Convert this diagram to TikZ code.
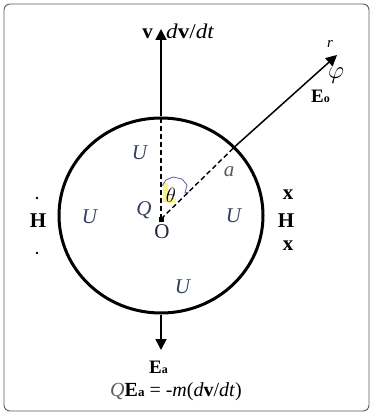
\documentclass[tikz,border=0pt]{standalone}
\usepackage{fontspec}
\setmainfont{Liberation Serif}
\usetikzlibrary{arrows.meta,shapes.geometric}
\definecolor{ucol}{HTML}{34405E}
\definecolor{graytxt}{HTML}{5A5A5A}
\definecolor{hexblue}{HTML}{5C5C9C}
\definecolor{hilite}{HTML}{F2EE3A}
\begin{document}
\begin{tikzpicture}[x=1pt,y=-1pt,
  lbl/.style={inner sep=0pt,font=\fontsize{21}{21}\selectfont},
  ulbl/.style={lbl,text=ucol},
  arr/.style={line width=1.8pt,-{Triangle[length=11pt,width=11pt]}},
  dline/.style={line width=1.4pt,dash pattern=on 5pt off 3pt},
  frame/.style={draw=graytxt,line width=0.9pt,rounded corners=6pt}
]
\useasboundingbox (0,0) rectangle (372,414);
\draw[frame] (4,4) rectangle (369,411);

% sphere
\node[ellipse,draw,line width=3pt,minimum width=204pt,minimum height=195pt,inner sep=0pt] (circ) at (161,215.5) {};
\coordinate (O) at (161,219);
\coordinate (vtip) at (161,29);
\coordinate (rtip) at (337,55);
\coordinate (atip) at (161,350);

% theta decoration
\fill[hilite,opacity=0.6] (163,183) -- (168,183) -- (168,197) -- (176,199) -- (175,203) -- (163,202) -- cycle;
\draw[hexblue,line width=0.8pt] (162,186) -- (166,180) -- (173,177) -- (182,179) -- (187,185) -- (185,193) -- (189,192);

% dashed radii
\draw[dline] (O) -- (circ.north);
\draw[dline] (O) -- (circ.43);
\fill (159,217) rectangle (163.5,221.5);

% arrows
\draw[arr] (circ.north) -- (vtip);
\draw[arr,line width=1.5pt] (circ.43) -- (rtip);
\draw[arr] (circ.south) -- (atip);

% labels
\node[lbl,anchor=base] (v) at (147.5,39) {\textbf{v}};
\node[lbl,anchor=base west,xscale=1.1] (dvdt) at (166,39) {\textit{d}\textbf{v}/\textit{dt}};
\node[lbl,anchor=base,font=\fontsize{15}{15}\selectfont] (r) at (330,48) {\textit{r}};
\node[lbl,font=\fontsize{25}{25}\selectfont] (phi) at (336,76) {$\varphi$};
\node[lbl,anchor=base west,font=\fontsize{19}{19}\selectfont] (Eo) at (311,103) {\textbf{E}\fontsize{12}{12}\selectfont\textbf{o}};

\node[ulbl] (U1) at (140,153) {\textit{U}};
\node[ulbl] (U2) at (90,217) {\textit{U}};
\node[ulbl] (U3) at (234,216) {\textit{U}};
\node[ulbl] (U4) at (183,287) {\textit{U}};
\node[ulbl] (Q) at (144,210) {\textit{Q}};
\node[lbl] (theta) at (171,195) {$\theta$};
\node[lbl,text=graytxt] (a) at (229,172) {\textit{a}};
\node[lbl,text=ucol!60!black] (Olbl) at (162,232) {O};

\node[lbl] (HL) at (38,221) {\textbf{H}};
\fill (37,198) circle (1.3pt);
\fill (37,253) circle (1.3pt);
\node[lbl] (HR) at (286,221) {\textbf{H}};
\node[lbl] (x1) at (288,195) {\textbf{x}};
\node[lbl] (x2) at (288,246) {\textbf{x}};

\node[lbl,anchor=base west,font=\fontsize{19}{19}\selectfont] (Ea) at (149,373) {\textbf{E}\fontsize{12}{12}\selectfont\textbf{a}};
\node[lbl,anchor=base,font=\fontsize{20}{20}\selectfont] (eq) at (176,396) {{\color{graytxt}\textit{Q}}\textbf{E}{\fontsize{13}{13}\selectfont\textbf{a}} = -\textit{m}(\textit{d}\textbf{v}/\textit{dt})};
\end{tikzpicture}
\end{document}
